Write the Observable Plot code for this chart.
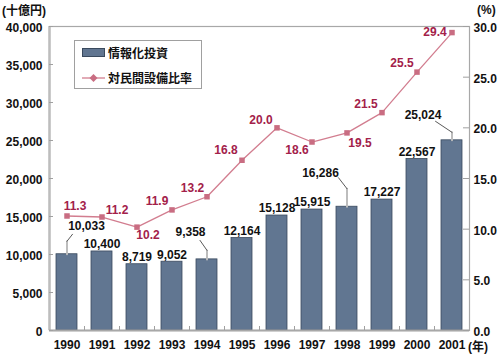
<!DOCTYPE html>
<html><head><meta charset="utf-8">
<script src="https://cdn.jsdelivr.net/npm/d3@7"></script>
<script src="https://cdn.jsdelivr.net/npm/@observablehq/plot@0.6"></script>
<style>
body{margin:0;background:#fff;font-family:"Liberation Sans",Arial,"Noto Sans CJK JP",sans-serif;}
#wrap{position:relative;width:500px;height:355px;}
.unit{position:absolute;font-size:12px;font-weight:bold;color:#111;line-height:14px;white-space:nowrap;font-family:"Liberation Sans",Arial,"Noto Sans CJK JP",sans-serif;}
#legend{position:absolute;left:74px;top:40px;width:128px;height:49px;border:1.5px solid #a0a0a0;background:#fff;box-sizing:border-box;}
#legend .row{position:absolute;left:0;height:14px;display:flex;align-items:center;}
#legend .lt{position:absolute;left:33px;font-size:12px;font-weight:bold;color:#111;white-space:nowrap;font-family:"Noto Sans CJK JP",sans-serif;line-height:14px;top:0;}
#legend .sw{position:absolute;left:7px;top:2px;width:23px;height:9px;background:#617691;border:1px solid #3a4a5e;box-sizing:border-box;}
#legend svg{position:absolute;left:7px;top:0;}
</style></head><body><div id="wrap"></div>
<script>
const years = ["1990","1991","1992","1993","1994","1995","1996","1997","1998","1999","2000","2001"];
const itInvest = [10033,10400,8719,9052,9358,12164,15128,15915,16286,17227,22567,25024];
const ratio = [11.3,11.2,10.2,11.9,13.2,16.8,20.0,18.6,19.5,21.5,25.5,29.4];
const leftTicks = [0,5000,10000,15000,20000,25000,30000,35000,40000];
const rightTicks = [0,5,10,15,20,25,30];
const seriesNames = ["情報化投資","対民間設備比率"];

const barColor = "#617691", barStroke = "#3a4a5e";
const lineColor = "#d27d8f", markColor = "#c96d82", ratioText = "#a3214a";

const S = 40000 / 30; // right-axis conversion
const H = 355, mT = 26, mB = 25;
const k = 40000 / (H - mT - mB); // data units per pixel

const bars = years.map((y, i) => ({year: y, value: itInvest[i]}));
const pts = years.map((y, i) => ({year: y, r: ratio[i], v: ratio[i] * S}));

// leader-line layout (pixels) for labels set off from their bars
const leaders = [
  {i: 0, up: 13, ex: 5.5, ey: -7, lx: 19.5, ly: -28.5},
  {i: 4, up: 9, ex: -7, ey: -10, lx: -16.5, ly: -27},
  {i: 8, up: 18, ex: -8.5, ey: -11, lx: -26.5, ly: -34},
  {i: 11, up: 8, ex: -16.5, ey: -11, lx: -29, ly: -25}
];
const leaderIdx = new Set(leaders.map(d => d.i));
// ratio label offsets (pixels)
const ratioOff = [[8,-10],[15,-7],[11,8],[-15,-9],[-14.5,-9],[-16,-10],[-16,-8],[-15,8],[13,10],[-16,-8],[-15,-9],[-17,0]];

const seg = {draw(ctx, l) { ctx.moveTo(0, 0); ctx.lineTo(0, -l); }};
const fmt = d3.format(",");

const marks = [
  Plot.frame({stroke: "#a8a8a8", strokeWidth: 1.2}),
  Plot.barY(bars, {x: "year", y: "value", fill: barColor, stroke: barStroke, strokeWidth: 0.8}),
  Plot.ruleX([years[0]], {x: d => d, dx: -17.5, stroke: "#bdbdbd", strokeWidth: 2.5}),
  Plot.ruleY([0], {stroke: "#a8a8a8", strokeWidth: 2}),
  Plot.ruleX(years.slice(1), {x: d => d, dx: -17.5, y1: 0, y2: 4 * k, stroke: "#a0a0a0", strokeWidth: 1}),
  Plot.ruleY(leftTicks, {y: d => d, insetRight: 416, stroke: "#a0a0a0"}),
  Plot.ruleY(rightTicks.map(v => v * S), {y: d => d, insetLeft: 414, stroke: "#a0a0a0"}),
  Plot.axisY(leftTicks, {anchor: "left", tickSize: 0, tickPadding: 7, tickFormat: fmt, label: null, dy: 1.5}),
  Plot.axisY(rightTicks.map(v => v * S), {anchor: "right", tickSize: 0, tickPadding: 4, tickFormat: d => (d / S).toFixed(1), label: null, dy: 1.5}),
  Plot.axisX({tickSize: 0, tickPadding: 10, label: null}),
  Plot.text(bars.filter((d, i) => !leaderIdx.has(i)), {x: "year", y: "value", text: d => fmt(d.value), dy: -7, fill: "#111"}),
  Plot.line(pts, {x: "year", y: "v", stroke: lineColor, strokeWidth: 1.3}),
  Plot.dot(pts, {x: "year", y: "v", symbol: "square", r: 3.1, fill: markColor, stroke: "none"})
];
leaders.forEach(l => {
  const d = bars[l.i];
  marks.push(Plot.vector([d], {x: "year", y: "value", length: l.up, rotate: 0, anchor: "start", shape: seg, stroke: "#bdbdbd", strokeWidth: 2}));
  marks.push(Plot.vector([d], {x: "year", y: "value", dy: -l.up, length: Math.hypot(l.ex, l.ey), rotate: Math.atan2(l.ex, -l.ey) * 180 / Math.PI, anchor: "start", shape: seg, stroke: "#444", strokeWidth: 0.8}));
  marks.push(Plot.text([d], {x: "year", y: "value", text: dd => fmt(dd.value), dx: l.lx, dy: l.ly, fill: "#111"}));
});
pts.forEach((p, i) => {
  marks.push(Plot.text([p], {x: "year", y: "v", text: dd => dd.r.toFixed(1), dx: ratioOff[i][0], dy: ratioOff[i][1], fill: ratioText}));
});

const chart = Plot.plot({
  width: 500, height: H,
  marginTop: mT, marginBottom: mB, marginLeft: 49, marginRight: 31,
  style: {fontFamily: '"Liberation Sans", Arial, sans-serif', fontSize: "12px", fontWeight: "bold", color: "#111", overflow: "visible", background: "#fff"},
  x: {domain: years, paddingInner: 0.4, paddingOuter: 0.2, axis: null},
  y: {domain: [0, 40000], axis: null},
  marks
});
const wrap = document.getElementById("wrap");
wrap.appendChild(chart);

function addDiv(cls, html, style) { const e = document.createElement("div"); e.className = cls; e.innerHTML = html; Object.assign(e.style, style); wrap.appendChild(e); return e; }
addDiv("unit", "(十億円)", {left: "2px", top: "4px"});
addDiv("unit", "(%)", {left: "477px", top: "3px"});
addDiv("unit", "(年)", {left: "468px", top: "340px"});
const lg = addDiv("", "", {}); lg.id = "legend";
lg.innerHTML = `<div class="row" style="top:5px;width:126px"><span class="sw"></span><span class="lt">${seriesNames[0]}</span></div>
<div class="row" style="top:30px;width:126px"><svg width="24" height="14"><line x1="0" y1="7" x2="23" y2="7" stroke="${lineColor}" stroke-width="1.3"/><path d="M11.5,3 L15.5,7 L11.5,11 L7.5,7Z" fill="${markColor}"/></svg><span class="lt">${seriesNames[1]}</span></div>`;
</script></body></html>
